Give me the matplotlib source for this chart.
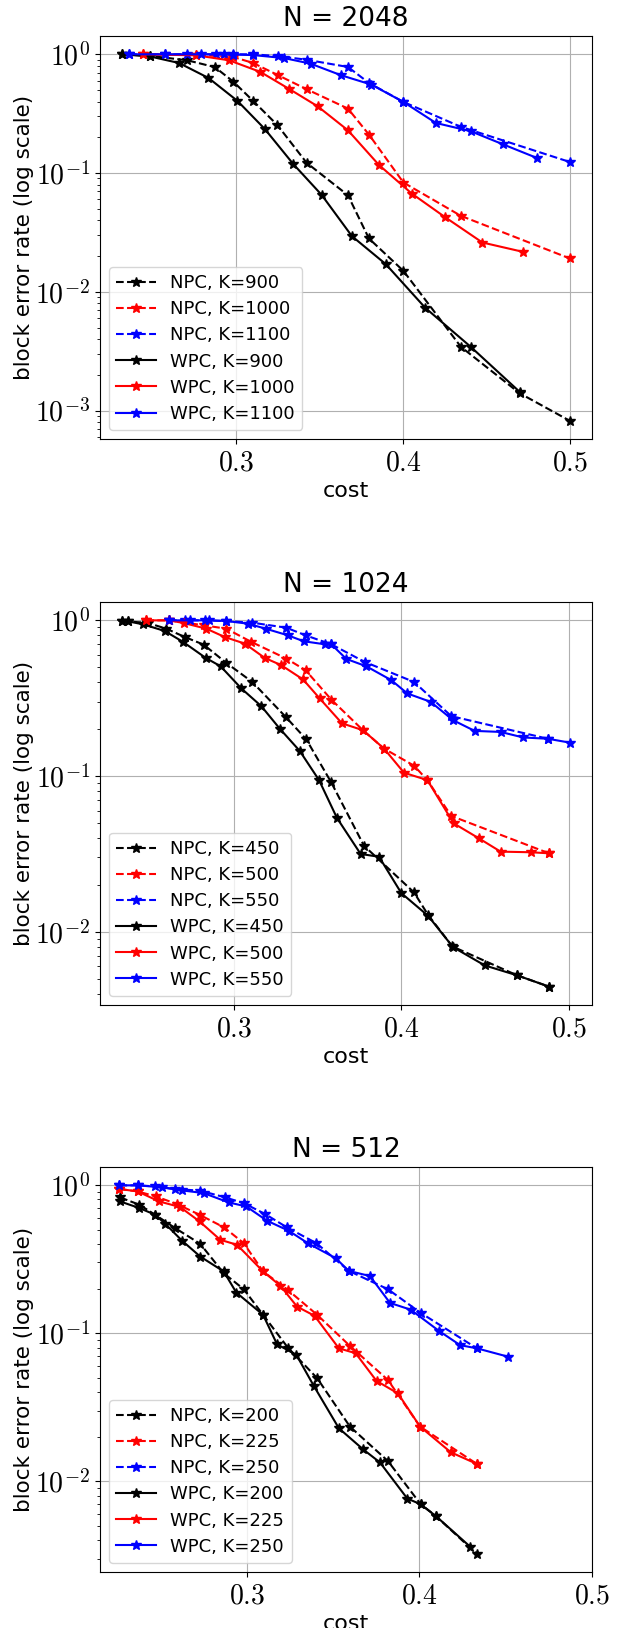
"""
Block error rate vs cost for NPC / WPC at three block lengths.
"""

import numpy as np
import matplotlib
matplotlib.use("Agg")
import matplotlib.pyplot as plt
from matplotlib.ticker import FuncFormatter, NullFormatter, MultipleLocator

plt.rcParams.update({
    'font.family': ['DejaVu Sans'],
    'mathtext.fontset': 'cm',
})

# ---------------- N = 2048 ----------------
npc_900_x = [0.2315, 0.2479, 0.2705, 0.2870, 0.2980, 0.3100, 0.3246, 0.3421, 0.3669, 0.3795, 0.4002, 0.4347, 0.4699, 0.5]
npc_900_y = [1.0, 0.97, 0.89, 0.78, 0.59, 0.405, 0.253, 0.122, 0.065, 0.0281, 0.0150, 0.00344, 0.00140, 0.00082]
wpc_900_x = [0.2315, 0.2479, 0.2655, 0.2832, 0.3006, 0.3170, 0.3341, 0.3511, 0.3693, 0.3896, 0.4133, 0.4406, 0.4699]
wpc_900_y = [1.0, 0.96, 0.845, 0.632, 0.405, 0.235, 0.119, 0.0655, 0.0294, 0.0171, 0.00733, 0.00344, 0.00144]

npc_1000_x = [0.2439, 0.2760, 0.2980, 0.3100, 0.3250, 0.3421, 0.3669, 0.3795, 0.4002, 0.4347, 0.5]
npc_1000_y = [1.0, 0.99, 0.95, 0.845, 0.666, 0.508, 0.349, 0.211, 0.0832, 0.0436, 0.0191]
wpc_1000_x = [0.2439, 0.2760, 0.2956, 0.3144, 0.3317, 0.3487, 0.3669, 0.3855, 0.4052, 0.4249, 0.4476, 0.4719]
wpc_1000_y = [1.0, 0.98, 0.89, 0.71, 0.51, 0.365, 0.229, 0.117, 0.0672, 0.0428, 0.026, 0.0217]

npc_1100_x = [0.2355, 0.2569, 0.2705, 0.2876, 0.2926, 0.2980, 0.3100, 0.3250, 0.3421, 0.3669, 0.3795, 0.4002, 0.4347, 0.5]
npc_1100_y = [1.0, 1.0, 1.0, 1.0, 1.0, 1.0, 1.0, 0.965, 0.90, 0.782, 0.574, 0.397, 0.245, 0.124]
wpc_1100_x = [0.2355, 0.2569, 0.2790, 0.2980, 0.3100, 0.3285, 0.3445, 0.3628, 0.3809, 0.4002, 0.4197, 0.4406, 0.4602, 0.4803]
wpc_1100_y = [1.0, 1.0, 1.0, 0.995, 0.985, 0.93, 0.834, 0.666, 0.556, 0.397, 0.264, 0.225, 0.174, 0.134]

# ---------------- N = 1024 ----------------
npc_450_x = [0.2336, 0.2370, 0.2489, 0.2598, 0.2708, 0.2821, 0.2956, 0.3111, 0.3310, 0.3433, 0.3582, 0.3777, 0.4076, 0.4159, 0.4304, 0.4690, 0.4881]
npc_450_y = [0.985, 0.985, 0.961, 0.884, 0.782, 0.698, 0.533, 0.402, 0.240, 0.172, 0.091, 0.0357, 0.01787, 0.01285, 0.00805, 0.00525, 0.00444]
wpc_450_x = [0.2336, 0.2370, 0.2459, 0.2588, 0.2698, 0.2833, 0.2922, 0.3046, 0.3165, 0.3274, 0.3394, 0.3509, 0.3616, 0.3757, 0.3867, 0.4000, 0.4159, 0.4308, 0.4497, 0.4690, 0.4881]
wpc_450_y = [0.985, 0.985, 0.943, 0.855, 0.727, 0.574, 0.507, 0.365, 0.281, 0.202, 0.145, 0.0942, 0.0538, 0.0316, 0.0303, 0.0177, 0.01267, 0.00797, 0.00608, 0.00525, 0.00444]

npc_500_x = [0.2479, 0.2614, 0.2823, 0.2956, 0.3105, 0.3314, 0.3429, 0.3582, 0.3771, 0.3897, 0.4076, 0.4155, 0.4298, 0.4881]
npc_500_y = [1.0, 1.0, 0.929, 0.884, 0.727, 0.568, 0.478, 0.310, 0.197, 0.150, 0.1165, 0.0942, 0.0554, 0.0319]
wpc_500_x = [0.2479, 0.2614, 0.2702, 0.2837, 0.2946, 0.3066, 0.3185, 0.3284, 0.3414, 0.3513, 0.3646, 0.3771, 0.3897, 0.4016, 0.4155, 0.4312, 0.4461, 0.4592, 0.4771, 0.4881]
wpc_500_y = [1.0, 1.0, 0.961, 0.884, 0.782, 0.709, 0.574, 0.515, 0.417, 0.315, 0.218, 0.197, 0.150, 0.105, 0.0942, 0.0497, 0.0399, 0.0327, 0.0324, 0.0319]

npc_550_x = [0.2614, 0.2708, 0.2827, 0.2956, 0.3111, 0.3314, 0.3429, 0.3582, 0.3781, 0.4076, 0.4298, 0.4875]
npc_550_y = [1.0, 1.0, 1.0, 0.99, 0.966, 0.897, 0.801, 0.702, 0.541, 0.402, 0.2425, 0.1735]
wpc_550_x = [0.2614, 0.2738, 0.2853, 0.2956, 0.3085, 0.3191, 0.3324, 0.3417, 0.3543, 0.3582, 0.3672, 0.3791, 0.3940, 0.4036, 0.4175, 0.4308, 0.4437, 0.4592, 0.4726, 0.4875, 0.5004]
wpc_550_y = [1.0, 1.0, 1.0, 0.99, 0.952, 0.884, 0.801, 0.734, 0.702, 0.702, 0.565, 0.507, 0.413, 0.339, 0.2996, 0.2286, 0.195, 0.192, 0.177, 0.1735, 0.164]

# ---------------- N = 512 ----------------
npc_200_x = [0.2267, 0.2379, 0.2470, 0.2586, 0.2731, 0.2867, 0.2983, 0.3095, 0.3238, 0.3408, 0.3598, 0.3818, 0.4008, 0.4095, 0.4331]
npc_200_y = [0.825, 0.736, 0.63, 0.512, 0.401, 0.254, 0.198, 0.133, 0.080, 0.0497, 0.0234, 0.0137, 0.00699, 0.00583, 0.00325]
wpc_200_x = [0.2267, 0.2379, 0.2470, 0.2528, 0.2625, 0.2731, 0.2867, 0.2940, 0.3095, 0.3176, 0.3288, 0.3389, 0.3534, 0.3675, 0.3772, 0.3930, 0.4008, 0.4095, 0.4294]
wpc_200_y = [0.775, 0.699, 0.63, 0.548, 0.422, 0.329, 0.261, 0.188, 0.133, 0.0841, 0.0713, 0.044, 0.0228, 0.0164, 0.0134, 0.00765, 0.00699, 0.00583, 0.00362]

npc_225_x = [0.2263, 0.2368, 0.2474, 0.2596, 0.2727, 0.2870, 0.2983, 0.3095, 0.3238, 0.3408, 0.3598, 0.3818, 0.4004, 0.4333]
npc_225_y = [0.94, 0.906, 0.838, 0.744, 0.63, 0.517, 0.405, 0.261, 0.196, 0.133, 0.082, 0.0483, 0.0234, 0.0131]
wpc_225_x = [0.2263, 0.2368, 0.2493, 0.2615, 0.2727, 0.2847, 0.2944, 0.3095, 0.3195, 0.3292, 0.3393, 0.3534, 0.3631, 0.3752, 0.3876, 0.4004, 0.4182, 0.4333]
wpc_225_y = [0.94, 0.906, 0.775, 0.71, 0.568, 0.427, 0.395, 0.261, 0.209, 0.151, 0.131, 0.079, 0.0732, 0.0476, 0.0392, 0.0234, 0.0157, 0.0131]

npc_250_x = [0.2263, 0.2373, 0.2470, 0.2586, 0.2731, 0.2876, 0.2983, 0.3108, 0.3234, 0.3404, 0.3592, 0.3818, 0.4008, 0.4333]
npc_250_y = [0.995, 0.995, 0.979, 0.94, 0.916, 0.825, 0.755, 0.636, 0.517, 0.405, 0.263, 0.198, 0.137, 0.079]
wpc_250_x = [0.2263, 0.2373, 0.2509, 0.2625, 0.2750, 0.2896, 0.2998, 0.3118, 0.3244, 0.3354, 0.3515, 0.3592, 0.3714, 0.3830, 0.3950, 0.4114, 0.4236, 0.4333, 0.4511]
wpc_250_y = [0.995, 0.995, 0.964, 0.92, 0.883, 0.763, 0.717, 0.574, 0.491, 0.405, 0.321, 0.263, 0.243, 0.160, 0.144, 0.1035, 0.083, 0.079, 0.0695]

panels = [
    ("N = 2048", [900, 1000, 1100],
     [(npc_900_x, npc_900_y), (npc_1000_x, npc_1000_y), (npc_1100_x, npc_1100_y)],
     [(wpc_900_x, wpc_900_y), (wpc_1000_x, wpc_1000_y), (wpc_1100_x, wpc_1100_y)], None),
    ("N = 1024", [450, 500, 550],
     [(npc_450_x, npc_450_y), (npc_500_x, npc_500_y), (npc_550_x, npc_550_y)],
     [(wpc_450_x, wpc_450_y), (wpc_500_x, wpc_500_y), (wpc_550_x, wpc_550_y)], None),
    ("N = 512", [200, 225, 250],
     [(npc_200_x, npc_200_y), (npc_225_x, npc_225_y), (npc_250_x, npc_250_y)],
     [(wpc_200_x, wpc_200_y), (wpc_225_x, wpc_225_y), (wpc_250_x, wpc_250_y)], 0.5),
]
colors = ['k', 'r', 'b']

# axes boxes in figure fractions (left, bottom, width, height)
boxes = [
    (0.1618, 0.7303, 0.7962, 0.2476),
    (0.1618, 0.3827, 0.7962, 0.2475),
    (0.1618, 0.0344, 0.7962, 0.2488),
]

fig = plt.figure(figsize=(6.18, 16.28), dpi=100)

log_fmt = FuncFormatter(lambda v, _: r'$10^{%d}$' % int(round(np.log10(v))))
lin_fmt = FuncFormatter(lambda v, _: r'$%g$' % round(v, 3))

for (title, ks, npc, wpc, xmax), box in zip(panels, boxes):
    ax = fig.add_axes(box)
    for (x, y), k, c in zip(npc, ks, colors):
        ax.plot(x, y, '--', marker='*', color=c, markersize=7, linewidth=1.5, label=f'NPC, K={k}')
    for (x, y), k, c in zip(wpc, ks, colors):
        ax.plot(x, y, '-', marker='*', color=c, markersize=7, linewidth=1.5, label=f'WPC, K={k}')
    ax.set_yscale('log')
    if xmax is not None:
        ax.set_xlim(right=xmax)
    ax.xaxis.set_major_locator(MultipleLocator(0.1))
    ax.xaxis.set_major_formatter(lin_fmt)
    ax.yaxis.set_major_formatter(log_fmt)
    ax.yaxis.set_minor_formatter(NullFormatter())
    ax.tick_params(axis='both', which='major', labelsize=20)
    ax.grid(True, which='major', color='#b0b0b0', linewidth=0.8)
    ax.set_title(title, fontsize=19, pad=7)
    ax.set_xlabel('cost', fontsize=16, labelpad=3)
    ax.set_ylabel('block error rate (log scale)', fontsize=15.5, labelpad=1)
    ax.legend(loc='lower left', fontsize=13, handlelength=2.2, labelspacing=0.45)

plt.savefig('out.png', dpi=100)
plt.close()
